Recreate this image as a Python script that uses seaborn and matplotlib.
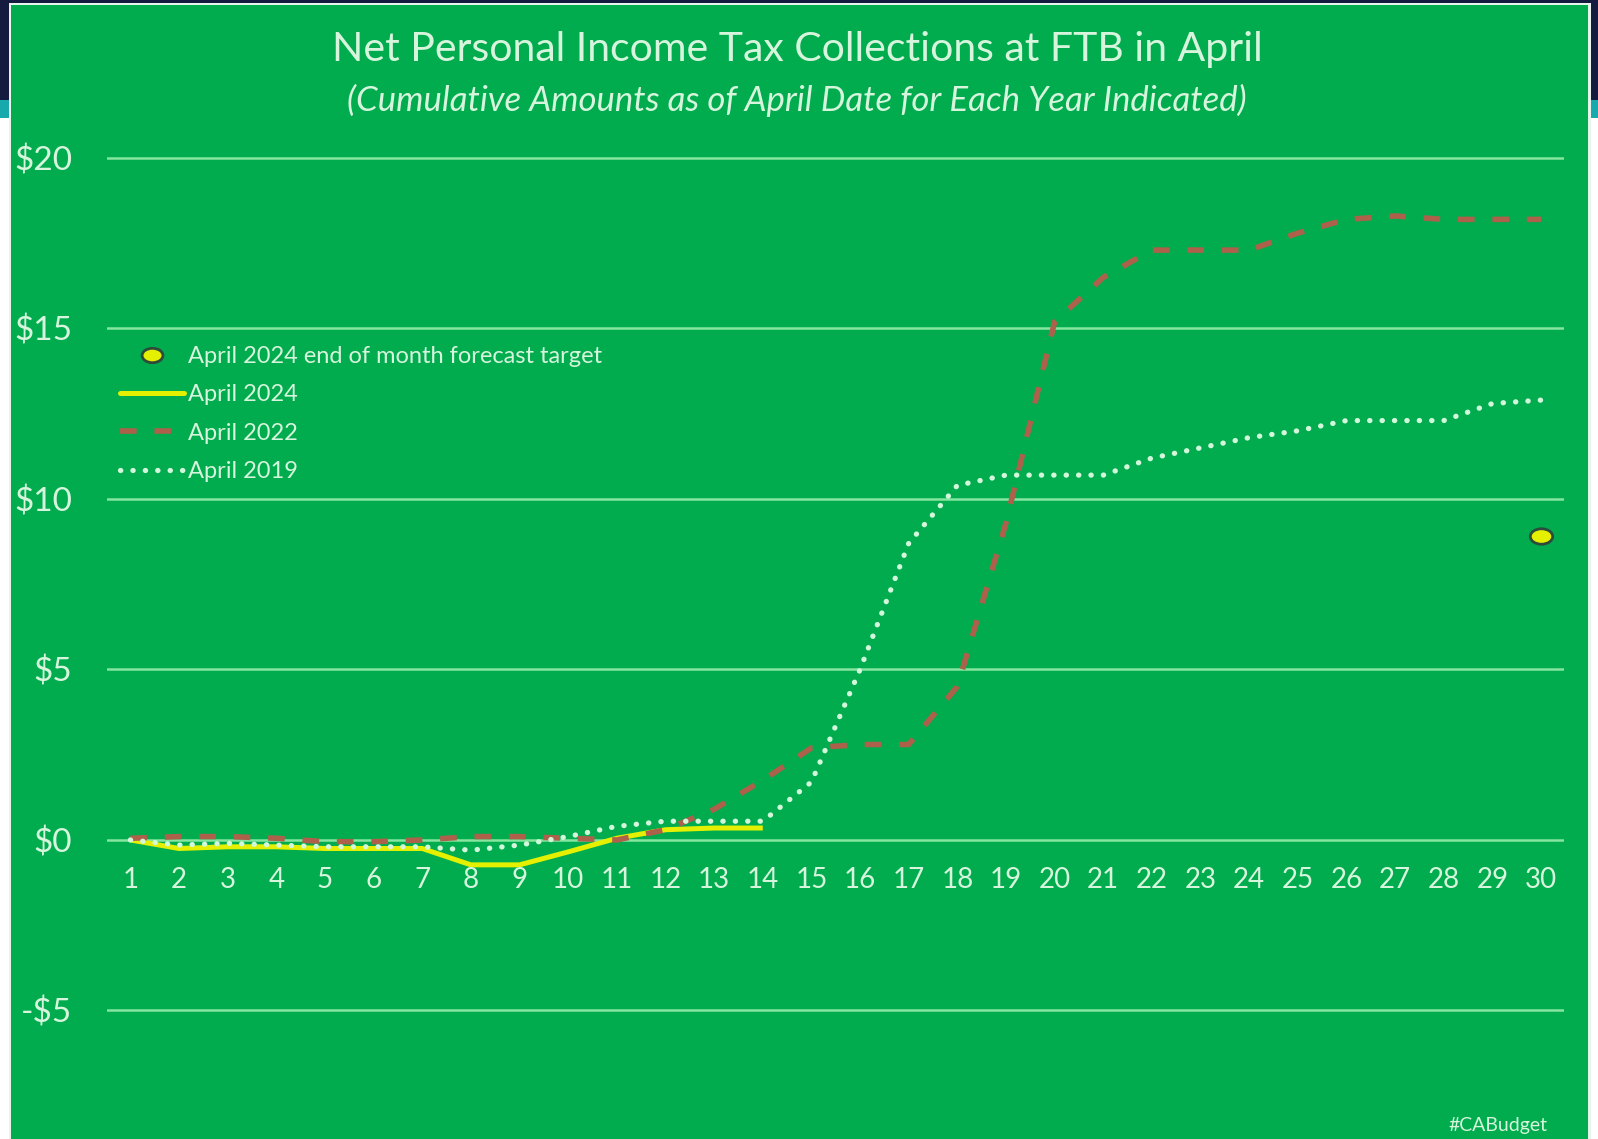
import numpy as np
import pandas as pd
import matplotlib
matplotlib.use("Agg")
import matplotlib.pyplot as plt
import matplotlib.transforms as mtrans
from matplotlib.patches import Rectangle
from matplotlib.path import Path
from matplotlib.lines import Line2D
import seaborn as sns

# ---------------- data ----------------
days = list(range(1, 31))
april_2024 = [0.0, -0.25, -0.2, -0.2, -0.25, -0.25, -0.25, -0.73, -0.73, -0.35, 0.05, 0.3, 0.35, 0.35]
april_2022 = [0.05, 0.1, 0.1, 0.05, -0.05, -0.05, 0.0, 0.1, 0.1, 0.05, 0.0, 0.3, 0.9, 1.75,
              2.7, 2.8, 2.8, 4.5, 9.3, 15.2, 16.5, 17.3, 17.3, 17.3, 17.8, 18.2, 18.3, 18.2, 18.2, 18.2]
april_2019 = [0.0, -0.15, -0.1, -0.15, -0.2, -0.2, -0.2, -0.3, -0.15, 0.1, 0.4, 0.55, 0.55, 0.55,
              1.7, 5.0, 8.7, 10.4, 10.7, 10.7, 10.7, 11.2, 11.5, 11.8, 12.0, 12.3, 12.3, 12.3, 12.8, 12.9]
target_day = [30]
target_value = [8.9]
y_ticks = [-5, 0, 5, 10, 15, 20]
y_tick_labels = ["-$5", "$0", "$5", "$10", "$15", "$20"]
title = "Net Personal Income Tax Collections at FTB in April"
subtitle = "(Cumulative Amounts as of April Date for Each Year Indicated)"
legend_labels = ["April 2024 end of month forecast target", "April 2024", "April 2022", "April 2019"]

# ---------------- style ----------------
GREEN = "#00AC4E"
GRID = "#86E6A0"
TEXT = "#D6F5DC"
YELLOW = "#E4F000"
BROWN = "#AD614B"
DOT = "#D2F7DA"
NAVY = "#141B3E"
TEAL = "#17A9AC"
DASH = (0, (3.0, 3.2))
DOTS = (0, (0.05, 2.3))

sns.set_theme(style="white")
plt.rcParams["font.family"] = ["Lato", "DejaVu Sans"]

W, H = 1598, 1139
fig = plt.figure(figsize=(W / 100, H / 100), dpi=100, facecolor="white")

def fr(x, y, w, h, color, z):
    fig.patches.append(Rectangle((x / W, 1 - (y + h) / H), w / W, h / H,
                                 transform=fig.transFigure, facecolor=color,
                                 edgecolor="none", zorder=z))

fr(0, 0, W, 100, NAVY, 0)
fr(0, 100, W, 18, TEAL, 0)
fr(9, 3, 1582, H, "#E8F5EC", 1)
fr(11, 5, 1577, H, GREEN, 2)

top_px, bot_px = 156.3, 1139
left_px, right_px = 107, 1564
ax = fig.add_axes([left_px / W, 1 - bot_px / H, (right_px - left_px) / W, (bot_px - top_px) / H])
ax.set_facecolor("none")
ax.set_zorder(5)

for yv in y_ticks:
    ax.axhline(yv, color=GRID, lw=1.8, zorder=1)

d24 = pd.DataFrame({"day": days[:len(april_2024)], "value": april_2024})
d22 = pd.DataFrame({"day": days, "value": april_2022})
d19 = pd.DataFrame({"day": days, "value": april_2019})

sns.lineplot(data=d24, x="day", y="value", ax=ax, color=YELLOW, lw=3.6,
             solid_capstyle="butt", zorder=3)
sns.lineplot(data=d22, x="day", y="value", ax=ax, color=BROWN, lw=4.0, zorder=4)
ax.lines[-1].set_linestyle(DASH)
sns.lineplot(data=d19, x="day", y="value", ax=ax, color=DOT, lw=3.8, zorder=5)
ax.lines[-1].set_linestyle(DOTS)
ax.lines[-1].set_dash_capstyle("round")

circ = Path.unit_circle()
ell = Path(circ.vertices * np.array([1.45, 1.0]), circ.codes)
sns.scatterplot(x=target_day, y=target_value, ax=ax, marker=ell, s=260,
                color=YELLOW, edgecolor="#2E4A3A", linewidth=2.0, zorder=6)

ax.set_xlim(0.52, 30.47)
ax.set_ylim(-8.77, 20.05)
ax.set_xticks(days)
ax.set_xticklabels([])
ax.set_yticks(y_ticks)
ax.set_yticklabels(y_tick_labels)
ax.tick_params(axis="x", length=0)
ax.tick_params(axis="y", length=0, pad=25, labelsize=24, labelcolor=TEXT)
ax.set_xlabel("")
ax.set_ylabel("")
for s in ax.spines.values():
    s.set_visible(False)
ax.grid(False)

# day labels sit just under the zero line
shift = mtrans.ScaledTranslation(0, -27 / 100, fig.dpi_scale_trans)
for d in days:
    t = ax.text(d, 0, str(d), ha="center", va="top", fontsize=20, color=TEXT, zorder=7)
    t.set_transform(ax.transData + shift)

fig.text(797 / W, 1 - 50 / H, title, ha="center", va="center", fontsize=29.5, color=TEXT, zorder=10)
fig.text(797 / W, 1 - 100 / H, subtitle, ha="center", va="center", fontsize=25, color=TEXT,
         style="italic", zorder=10)

handles = [
    Line2D([], [], ls="none", marker=ell, markersize=15, markerfacecolor=YELLOW,
           markeredgecolor="#2E4A3A", markeredgewidth=2),
    Line2D([], [], color=YELLOW, lw=3.6),
    Line2D([], [], color=BROWN, lw=4.0, ls=DASH),
    Line2D([], [], color=DOT, lw=3.8, ls=DOTS, dash_capstyle="round"),
]
leg = fig.legend(handles, legend_labels, loc="upper left",
                 bbox_to_anchor=(120 / W, 1 - 346 / H), frameon=False,
                 fontsize=17, labelcolor=TEXT, handlelength=2.7, handletextpad=0.2,
                 labelspacing=0.735, borderaxespad=0, borderpad=0)
leg.set_zorder(10)

fig.text(1498 / W, 1 - 1126 / H, "#CABudget", ha="center", va="center", fontsize=14,
         color=TEXT, zorder=10)

fig.savefig("out.png", dpi=100, facecolor=fig.get_facecolor())
